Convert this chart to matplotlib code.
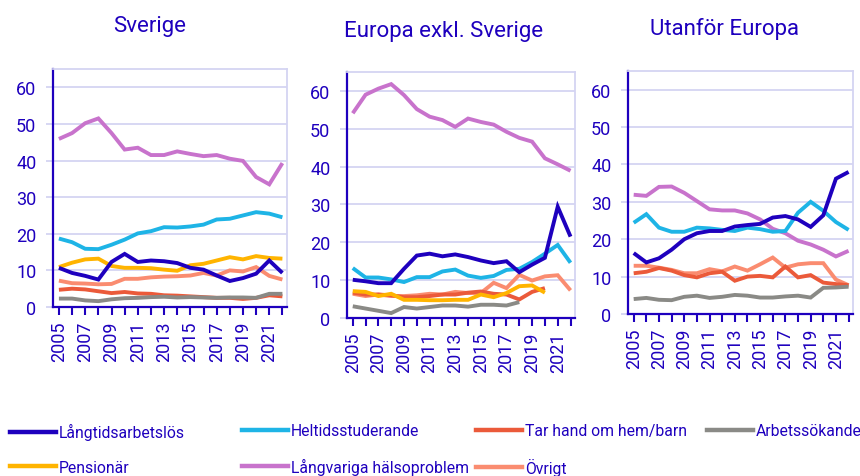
import numpy as np
import matplotlib
matplotlib.use("Agg")
import matplotlib.pyplot as plt
from matplotlib.lines import Line2D

plt.rcParams['font.family'] = ['Roboto', 'DejaVu Sans']

years = list(range(2005, 2023))
nan = np.nan

series_names = ["Långtidsarbetslös", "Heltidsstuderande", "Tar hand om hem/barn", "Arbetssökande",
                "Pensionär", "Långvariga hälsoproblem", "Övrigt"]
colors = ["#1E00BE", "#1EB4E6", "#EB5A3A", "#8A8A86", "#FFB400", "#C873CC", "#FA8C70"]

# Sverige
sv_langtid = [10.7, 9.3, 8.5, 7.5, 12.3, 14.5, 12.3, 12.7, 12.5, 12.0, 10.7, 10.2, 8.6, 7.1, 7.9, 9.1, 12.7, 9.3]
sv_heltid = [18.7, 17.7, 15.9, 15.8, 17.0, 18.4, 20.1, 20.7, 21.8, 21.7, 22.0, 22.5, 23.9, 24.1, 25.0, 25.9, 25.5, 24.5]
sv_tarhand = [4.7, 5.0, 4.8, 4.3, 3.8, 4.1, 3.7, 3.6, 3.2, 3.1, 2.9, 2.7, 2.5, 2.5, 2.2, 2.5, 3.2, 2.9]
sv_arbsok = [2.3, 2.3, 1.8, 1.6, 2.1, 2.4, 2.5, 2.7, 2.8, 2.6, 2.7, 2.6, 2.5, 2.6, 2.6, 2.5, 3.6, 3.6]
sv_pension = [10.9, 12.1, 13.0, 13.2, 11.2, 10.7, 10.7, 10.6, 10.2, 9.9, 11.4, 11.8, 12.7, 13.6, 13.0, 13.9, 13.4, 13.2]
sv_halsa = [45.9, 47.5, 50.2, 51.5, 47.5, 43.0, 43.5, 41.5, 41.5, 42.5, 41.8, 41.2, 41.5, 40.5, 39.9, 35.5, 33.5, 39.3]
sv_ovrigt = [7.2, 6.5, 6.4, 6.2, 6.3, 7.7, 7.7, 8.1, 8.3, 8.4, 8.6, 9.3, 8.6, 10.0, 9.7, 10.9, 8.5, 7.5]

# Europa exkl. Sverige
eu_langtid = [10.1, 9.7, 9.2, 9.2, 13.0, 16.5, 17.0, 16.3, 16.8, 16.1, 15.2, 14.5, 15.0, 12.1, 14.1, 15.9, 29.4, 21.5]
eu_heltid = [13.2, 10.7, 10.7, 10.2, 9.5, 10.8, 10.8, 12.3, 12.8, 11.2, 10.6, 11.1, 12.7, 13.0, 14.8, 17.0, 19.3, 14.6]
eu_tarhand = [6.7, 6.2, 6.2, 6.0, 5.5, 5.5, 5.8, 6.2, 6.2, 6.7, 7.0, 6.4, 6.2, 4.9, 6.9, 7.9, nan, nan]
eu_arbsok = [3.1, 2.5, 1.9, 1.3, 2.9, 2.5, 2.9, 3.3, 3.3, 3.0, 3.5, 3.5, 3.3, 4.2, nan, nan, nan, nan]
eu_pension = [7.1, 6.9, 5.8, 6.4, 4.8, 4.8, 4.7, 4.7, 4.8, 4.8, 6.2, 5.5, 6.6, 8.4, 8.6, 6.7, nan, nan]
eu_halsa = [54.1, 59.0, 60.6, 61.8, 58.9, 55.2, 53.2, 52.3, 50.5, 52.7, 51.8, 51.1, 49.2, 47.6, 46.6, 42.2, 40.6, 38.9]
eu_ovrigt = [6.4, 5.8, 6.2, 5.8, 5.8, 6.0, 6.4, 6.2, 6.9, 6.6, 6.6, 9.3, 7.9, 11.4, 9.9, 11.0, 11.3, 7.3]

# Utanför Europa
ut_langtid = [16.3, 13.8, 14.9, 17.2, 20.0, 21.6, 22.2, 22.2, 23.4, 23.8, 24.1, 25.8, 26.2, 25.3, 23.3, 26.4, 36.2, 38.0]
ut_heltid = [24.4, 26.7, 23.1, 22.0, 22.0, 23.1, 22.9, 22.5, 22.2, 23.1, 22.7, 22.0, 22.2, 27.1, 30.0, 27.6, 24.6, 22.5]
ut_tarhand = [10.9, 11.3, 12.3, 11.6, 10.4, 9.8, 10.9, 11.3, 8.9, 10.0, 10.2, 9.8, 12.7, 9.8, 10.4, 8.4, 8.0, 7.7]
ut_arbsok = [4.0, 4.3, 3.8, 3.7, 4.6, 4.9, 4.3, 4.6, 5.1, 4.9, 4.4, 4.4, 4.7, 4.9, 4.4, 7.0, 7.1, 7.3]
ut_pension = [nan] * 18
ut_halsa = [31.9, 31.6, 34.0, 34.1, 32.4, 30.2, 28.0, 27.7, 27.7, 26.9, 25.3, 22.8, 21.6, 19.6, 18.6, 17.2, 15.4, 16.9]
ut_ovrigt = [12.9, 12.9, 12.4, 11.8, 10.9, 10.9, 12.0, 11.4, 12.7, 11.6, 13.3, 15.1, 12.4, 13.3, 13.6, 13.6, 9.2, 7.7]

titles = ["Sverige", "Europa exkl. Sverige", "Utanför Europa"]
panels = [
    [sv_langtid, sv_heltid, sv_tarhand, sv_arbsok, sv_pension, sv_halsa, sv_ovrigt],
    [eu_langtid, eu_heltid, eu_tarhand, eu_arbsok, eu_pension, eu_halsa, eu_ovrigt],
    [ut_langtid, ut_heltid, ut_tarhand, ut_arbsok, ut_pension, ut_halsa, ut_ovrigt],
]
yticks = [0, 10, 20, 30, 40, 50, 60]

W, H = 860, 477
fig = plt.figure(figsize=(W / 100, H / 100), dpi=100)

TXT = "#1E00BE"
GRID = "#D4D4F2"

# axes boxes in pixels: left, right, top, bottom(y=0)
boxes = [(53, 287, 70, 308), (347, 575, 73, 319), (628, 853, 72, 315)]
title_pos = [(150, 32), (444, 37), (725, 35)]

draw_order = [5, 1, 6, 2, 3, 4, 0]

for p, (box, title, tpos, data) in enumerate(zip(boxes, titles, title_pos, panels)):
    l, r, t, b = box
    ax = fig.add_axes([l / W, (H - b) / H, (r - l) / W, (b - t) / H])
    for i in draw_order:
        ax.plot(years, data[i], color=colors[i], lw=2.8, solid_capstyle='butt',
                solid_joinstyle='miter', zorder=3 + (1 if i == 0 else 0))
    ax.set_ylim(0, 65)
    ax.set_xlim(2004.55, 2022.35)
    ax.set_yticks(yticks)
    ax.set_xticks(years)
    ax.set_xticklabels([str(y) if (y - 2005) % 2 == 0 else "" for y in years],
                       rotation=90)
    ax.grid(axis='y', color=GRID, lw=1.3, zorder=0)
    for s in ['top', 'right']:
        ax.spines[s].set_color(GRID)
        ax.spines[s].set_linewidth(1.3)
    for s in ['left', 'bottom']:
        ax.spines[s].set_color(TXT)
        ax.spines[s].set_linewidth(1.6)
    ax.tick_params(axis='y', colors=GRID, labelcolor=TXT, labelsize=13, length=5, width=1.3, pad=7)
    ax.tick_params(axis='x', colors=TXT, labelcolor=TXT, labelsize=13, length=6, width=1.5, pad=4)
    ax.set_axisbelow(True)
    fig.text(tpos[0] / W, 1 - tpos[1] / H, title, ha='center', va='baseline',
             fontsize=16, color=TXT)

# Legend: 4 fixed-width columns, 2 rows
col_x = [10, 242, 476, 707]
row_top = 424
for c in range(4):
    idx = [k for k in (c, c + 4) if k < len(series_names)]
    handles = [Line2D([], [], color=colors[k], lw=3.2) for k in idx]
    labels = [series_names[k] for k in idx]
    fig.legend(handles, labels, loc='upper left',
               bbox_to_anchor=(col_x[c] / W, 1 - row_top / H),
               frameon=False, fontsize=11.3, labelcolor=TXT, handlelength=2.9,
               handletextpad=0.2, labelspacing=1.25, borderaxespad=0, borderpad=0)

fig.savefig("out.png", dpi=100)
